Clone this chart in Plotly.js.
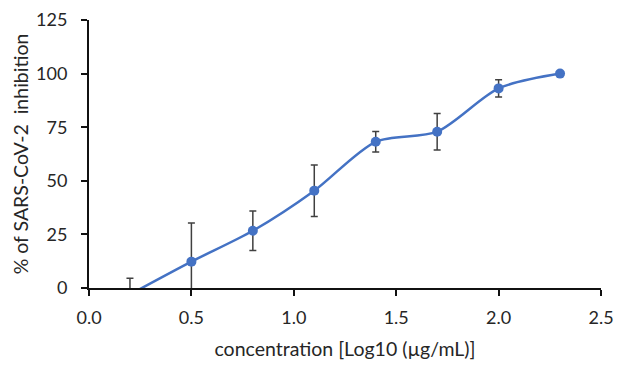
<!DOCTYPE html>
<html>
<head>
<meta charset="utf-8">
<script src="https://cdn.plot.ly/plotly-3.0.1.min.js"></script>
<style>html,body{margin:0;padding:0;background:#fff;}#chart{width:620px;height:367px;}</style>
</head>
<body>
<div id="chart"></div>
<script>
const concentration = [0.2, 0.5, 0.8, 1.1, 1.4, 1.7, 2.0, 2.3];
const inhibition = [-3, 12.3, 26.7, 45.4, 68.2, 72.9, 93.1, 100];
const errorSD = [7.5, 18, 9.2, 12, 4.8, 8.5, 4, 0];
const xTicks = [0, 0.5, 1.0, 1.5, 2.0, 2.5];
const xTickLabels = ['0.0', '0.5', '1.0', '1.5', '2.0', '2.5'];
const yTicks = [0, 25, 50, 75, 100, 125];

const tickFont = {family: 'Lato, "Open Sans", sans-serif', size: 18, color: '#262626'};
const titleFont = {family: 'Lato, "Open Sans", sans-serif', size: 19.5, color: '#262626'};

const trace = {
  x: concentration,
  y: inhibition,
  type: 'scatter',
  mode: 'lines+markers',
  line: {color: '#4472C4', width: 2.5, shape: 'spline', smoothing: 0.8},
  marker: {color: '#4472C4', size: 10},
  error_y: {type: 'data', array: errorSD, visible: true, color: '#404040', thickness: 1.5, width: 3.5},
  cliponaxis: true,
  hoverinfo: 'none'
};

const layout = {
  width: 620, height: 367,
  margin: {l: 89, r: 19, t: 20, b: 79},
  paper_bgcolor: '#fff', plot_bgcolor: '#fff',
  showlegend: false,
  font: tickFont,
  xaxis: {
    range: [0, 2.5],
    tickvals: xTicks, ticktext: xTickLabels,
    ticks: 'outside', ticklen: 6, tickwidth: 2, tickcolor: '#111',
    showline: true, linecolor: '#111', linewidth: 2,
    showgrid: false, zeroline: false,
    tickfont: tickFont,
    ticklabelstandoff: 6,
    title: {text: 'concentration [Log10 (µg/mL)]', font: titleFont, standoff: 16}
  },
  yaxis: {
    range: [0, 125],
    tickvals: yTicks,
    ticks: 'outside', ticklen: 6, tickwidth: 2, tickcolor: '#111',
    showline: true, linecolor: '#111', linewidth: 2,
    showgrid: false, zeroline: false,
    tickfont: tickFont,
    ticklabelstandoff: 10,
    title: {text: '% of SARS-CoV-2  inhibition', font: titleFont, standoff: 2}
  }
};

Plotly.newPlot('chart', [trace], layout, {staticPlot: true, displayModeBar: false});
</script>
</body>
</html>
